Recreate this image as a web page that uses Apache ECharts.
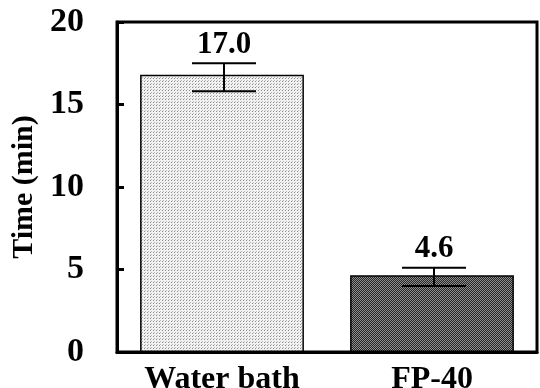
<!DOCTYPE html>
<html><head><meta charset="utf-8">
<script src="https://cdn.jsdelivr.net/npm/echarts@6/dist/echarts.min.js"></script>
<style>html,body{margin:0;padding:0;background:#fff}#c{width:540px;height:388px}</style>
</head><body><div id="c"></div>
<script>
var categories = ['Water bath', 'FP-40'];
var values = [16.8, 4.65];
var errLow = [15.8, 4.0];
var errHigh = [17.5, 5.1];
var valueLabels = ['17.0', '4.6'];
var yTicks = [0, 5, 10, 15, 20];

function makePattern(kind) {
  var c = document.createElement('canvas');
  var ctx = c.getContext('2d');
  if (kind === 'dots') {
    c.width = 3; c.height = 3;
    ctx.fillStyle = '#f2f2f2'; ctx.fillRect(0, 0, 3, 3);
    ctx.fillStyle = '#8a8a8a'; ctx.fillRect(0, 0, 1, 1);
    ctx.fillStyle = '#b8b8b8'; ctx.fillRect(1, 2, 1, 1);
  } else {
    c.width = 4; c.height = 4;
    ctx.fillStyle = '#8e8e8e'; ctx.fillRect(0, 0, 4, 4);
    ctx.fillStyle = '#262626';
    for (var i = 0; i < 4; i++) { ctx.fillRect(i, 3 - i, 1, 1); ctx.fillRect((i + 2) % 4, 3 - i, 1, 1); }
  }
  return {image: c, repeat: 'repeat'};
}
var fills = [makePattern('dots'), makePattern('hatch')];

var chart = echarts.init(document.getElementById('c'));
var font = '"Liberation Serif", "Times New Roman", serif';
chart.setOption({
  animation: false,
  grid: {left: 117, right: 3, top: 22, bottom: 36, outerBoundsMode: 'none', containLabel: false,
    show: true, borderColor: '#000', borderWidth: 3, backgroundColor: 'transparent'},
  xAxis: {
    type: 'category', data: categories,
    axisLine: {show: true, lineStyle: {color: '#000', width: 3}},
    axisTick: {show: false},
    axisLabel: {color: '#000', fontFamily: font, fontWeight: 'bold', fontSize: 32, margin: 12}
  },
  yAxis: {
    type: 'value', min: 0, max: 20, interval: 5,
    name: 'Time (min)', nameLocation: 'middle', nameGap: 78,
    nameTextStyle: {color: '#000', fontFamily: font, fontWeight: 'bold', fontSize: 30},
    splitLine: {show: false},
    axisLine: {show: true, lineStyle: {color: '#000', width: 3}},
    axisTick: {show: true, inside: true, length: 7, lineStyle: {color: '#000', width: 3}},
    axisLabel: {color: '#000', fontFamily: font, fontWeight: 'bold', fontSize: 34, margin: 33,
      formatter: function (v) { return yTicks.indexOf(v) >= 0 ? String(v) : ''; }}
  },
  series: [{
    type: 'bar', barWidth: '78%',
    data: values.map(function (v, i) {
      return {value: v, itemStyle: {color: fills[i], borderColor: '#000', borderWidth: 1.5}};
    }),
    z: 2
  }, {
    type: 'custom', z: 3,
    data: categories.map(function (c, i) { return [i, errLow[i], errHigh[i]]; }),
    renderItem: function (params, api) {
      var i = api.value(0);
      var lo = api.coord([i, api.value(1)]);
      var hi = api.coord([i, api.value(2)]);
      var x = lo[0] + 2, hw = 32;
      var st = {stroke: '#000', lineWidth: 2};
      return {type: 'group', children: [
        {type: 'line', shape: {x1: x, y1: lo[1], x2: x, y2: hi[1]}, style: st},
        {type: 'line', shape: {x1: x - hw, y1: lo[1], x2: x + hw, y2: lo[1]}, style: st},
        {type: 'line', shape: {x1: x - hw, y1: hi[1], x2: x + hw, y2: hi[1]}, style: st},
        {type: 'text', x: x, y: hi[1] - 3, style: {text: valueLabels[params.dataIndex], fill: '#000',
          font: 'bold 31px ' + font, textAlign: 'center', textVerticalAlign: 'bottom'}}
      ]};
    }
  }]
});
</script></body></html>
